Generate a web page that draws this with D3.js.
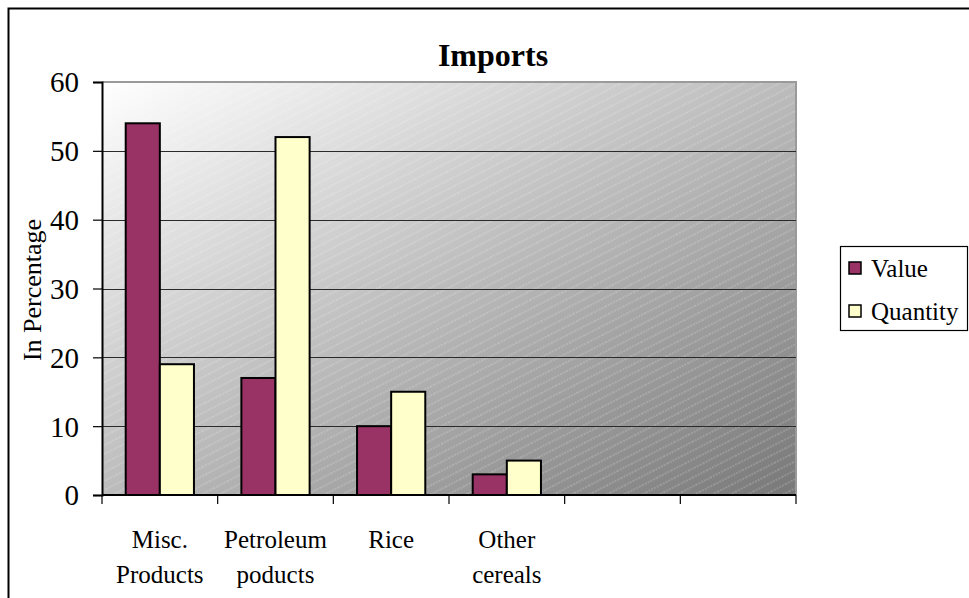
<!DOCTYPE html>
<html>
<head>
<meta charset="utf-8">
<script src="https://cdn.jsdelivr.net/npm/d3@7"></script>
<style>
  html, body { margin: 0; padding: 0; background: #fff; }
  svg { display: block; font-family: "Liberation Serif", "Times New Roman", serif; }
</style>
</head>
<body>
<svg id="chart" width="969" height="598"></svg>
<script>
// Category slots along the x axis (two trailing slots are empty)
const categories = [["Misc.", "Products"], ["Petroleum", "poducts"], ["Rice"], ["Other", "cereals"], [""], [""]];
const seriesNames = ["Value", "Quantity"];
const valueData = [54, 17, 10, 3];
const quantityData = [19, 52, 15, 5];
const yTicks = [0, 10, 20, 30, 40, 50, 60];
const seriesColors = ["#993366", "#FFFFCC"];

const svg = d3.select("#chart");
const plot = { left: 102, top: 82, right: 796, bottom: 495 };

// Outer chart frame (runs off the right and bottom edges)
svg.append("rect")
  .attr("x", 8.5).attr("y", 8.5)
  .attr("width", 1000).attr("height", 700)
  .attr("fill", "none").attr("stroke", "#000").attr("stroke-width", 2);

const defs = svg.append("defs");
const grad = defs.append("linearGradient").attr("id", "bgGrad")
  .attr("x1", 0).attr("y1", 0).attr("x2", 1).attr("y2", 1);
grad.append("stop").attr("offset", "0%").attr("stop-color", "#ffffff");
grad.append("stop").attr("offset", "100%").attr("stop-color", "#787878");

const hatch = defs.append("pattern").attr("id", "hatch")
  .attr("patternUnits", "userSpaceOnUse")
  .attr("width", 16).attr("height", 8)
  .attr("patternTransform", "rotate(-27)");
hatch.append("line")
  .attr("x1", 0).attr("y1", 4).attr("x2", 16).attr("y2", 4)
  .attr("stroke", "#ffffff").attr("stroke-opacity", 0.32)
  .attr("stroke-width", 1).attr("stroke-dasharray", "2,1");

const x = d3.scaleBand()
  .domain(d3.range(categories.length))
  .range([plot.left, plot.right])
  .paddingInner(0.41).paddingOuter(0.205);
const xs = d3.scaleBand().domain(seriesNames).range([0, x.bandwidth()]);
const y = d3.scaleLinear().domain([0, 60]).range([plot.bottom, plot.top]);

// Plot background
svg.append("rect")
  .attr("x", plot.left).attr("y", plot.top)
  .attr("width", plot.right - plot.left).attr("height", plot.bottom - plot.top)
  .attr("fill", "url(#bgGrad)");
svg.append("rect")
  .attr("x", plot.left).attr("y", plot.top)
  .attr("width", plot.right - plot.left).attr("height", plot.bottom - plot.top)
  .attr("fill", "url(#hatch)");

// Plot border (top and right)
svg.append("path")
  .attr("d", `M${plot.left},${plot.top}H${plot.right}V${plot.bottom}`)
  .attr("fill", "none").attr("stroke", "#9a9a9a").attr("stroke-width", 2);

// Gridlines
svg.append("g").selectAll("line")
  .data(yTicks.filter(t => t > 0 && t < 60))
  .join("line")
  .attr("x1", plot.left).attr("x2", plot.right)
  .attr("y1", d => Math.round(y(d)) + 0.5).attr("y2", d => Math.round(y(d)) + 0.5)
  .attr("stroke", "#2a2a2a").attr("stroke-width", 1.2);

// Bars
const rows = valueData.map((v, i) => ({ i, vals: [v, quantityData[i]] }));
const groups = svg.append("g").selectAll("g")
  .data(rows).join("g")
  .attr("transform", d => `translate(${x(d.i)},0)`);
groups.selectAll("rect")
  .data(d => d.vals.map((v, k) => ({ v, k })))
  .join("rect")
  .attr("x", d => xs(seriesNames[d.k]))
  .attr("y", d => y(d.v))
  .attr("width", xs.bandwidth())
  .attr("height", d => y(0) - y(d.v))
  .attr("fill", d => seriesColors[d.k])
  .attr("stroke", "#000").attr("stroke-width", 2);

// Y axis
const yAxis = svg.append("g")
  .attr("transform", `translate(${plot.left},0)`)
  .call(d3.axisLeft(y).tickValues(yTicks).tickSize(9).tickPadding(14));
yAxis.select(".domain").attr("stroke", "#000").attr("stroke-width", 2);
yAxis.selectAll(".tick line").attr("stroke", "#000").attr("stroke-width", 1.2);
yAxis.selectAll(".tick text")
  .attr("font-family", "Liberation Serif, Times New Roman, serif")
  .attr("font-size", 29).attr("fill", "#000").attr("dy", "0.34em");

// X axis line and category boundary ticks
svg.append("line")
  .attr("x1", plot.left).attr("x2", plot.right)
  .attr("y1", plot.bottom).attr("y2", plot.bottom)
  .attr("stroke", "#000").attr("stroke-width", 2);
const boundaries = d3.range(categories.length + 1).map(i => plot.left + i * x.step());
svg.append("g").selectAll("line")
  .data(boundaries).join("line")
  .attr("x1", d => d).attr("x2", d => d)
  .attr("y1", plot.bottom).attr("y2", plot.bottom + 9)
  .attr("stroke", "#000").attr("stroke-width", 1.2);

// Category labels
const labels = svg.append("g").selectAll("text")
  .data(categories.map((c, i) => ({ c, i })))
  .join("text")
  .attr("text-anchor", "middle")
  .attr("font-size", 25)
  .attr("fill", "#000");
labels.selectAll("tspan")
  .data(d => d.c.map(line => ({ line, cx: x(d.i) + x.bandwidth() / 2 })))
  .join("tspan")
  .attr("x", d => d.cx)
  .attr("y", (d, k) => 548 + k * 35)
  .text(d => d.line);

// Title
svg.append("text")
  .attr("x", 493).attr("y", 66)
  .attr("text-anchor", "middle")
  .attr("font-size", 32).attr("font-weight", "bold")
  .text("Imports");

// Y axis title
svg.append("text")
  .attr("transform", "translate(41,290) rotate(-90)")
  .attr("text-anchor", "middle")
  .attr("font-size", 26)
  .text("In Percentage");

// Legend
const legend = svg.append("g");
legend.append("rect")
  .attr("x", 840.5).attr("y", 246.5).attr("width", 127).attr("height", 84)
  .attr("fill", "#fff").attr("stroke", "#000").attr("stroke-width", 1.2);
const items = legend.selectAll("g.item")
  .data(seriesNames).join("g").attr("class", "item")
  .attr("transform", (d, i) => `translate(0,${i * 43})`);
items.append("rect")
  .attr("x", 849).attr("y", 262).attr("width", 12).attr("height", 12)
  .attr("fill", (d, i) => seriesColors[i]).attr("stroke", "#000").attr("stroke-width", 1.5);
items.append("text")
  .attr("x", 871).attr("y", 277)
  .attr("font-size", 25)
  .text(d => d);
</script>
</body>
</html>
